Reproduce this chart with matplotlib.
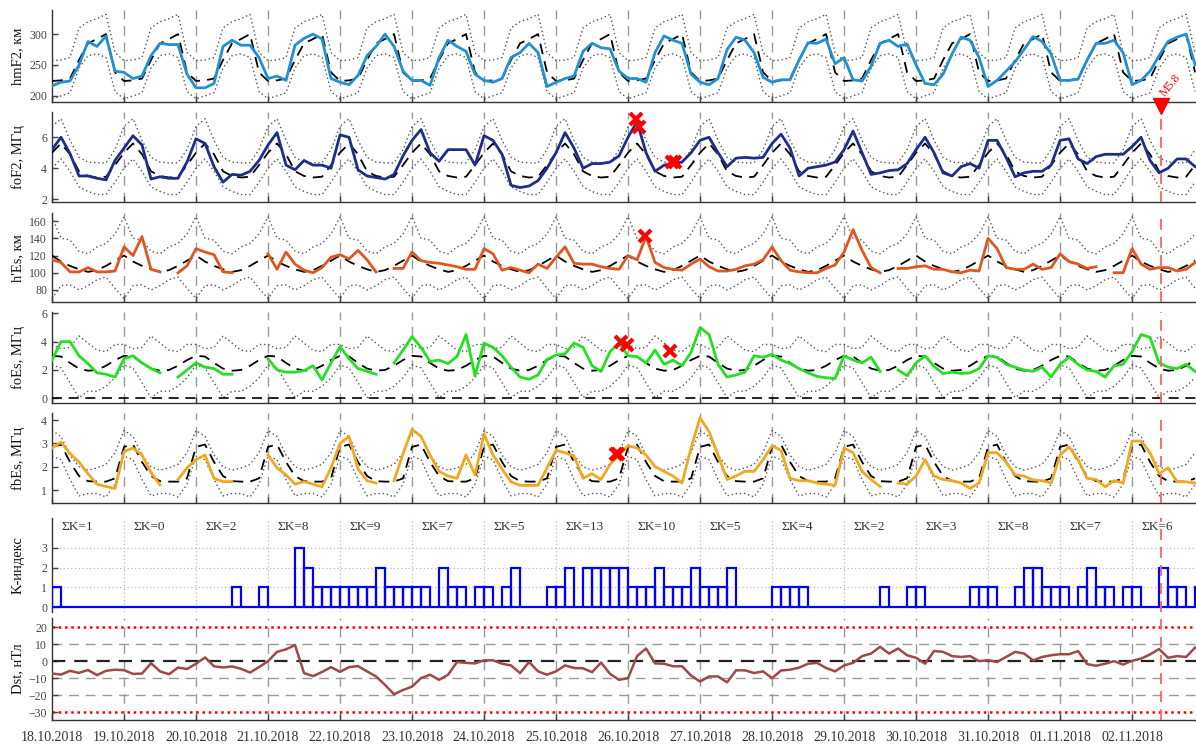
import numpy as np
import pandas as pd
import matplotlib
matplotlib.use('Agg')
import matplotlib.pyplot as plt

plt.rcParams['font.family'] = ['Liberation Serif', 'DejaVu Serif']

# time axis: 3-hour steps starting 18.10.2018 00 UT
day_labels = pd.date_range('2018-10-18', periods=16, freq='D').strftime('%d.%m.%Y').tolist()
hours = np.arange(128) * 3
nan = np.nan
quake_hour = 369.7   # M5.8, 02.11.2018

# --- hmF2, km (one row = one day) ---
hmf2 = [216, 222, 224, 250, 288, 280, 297, 240,
        238, 228, 232, 265, 285, 283, 283, 235,
        213, 213, 220, 280, 290, 282, 282, 262,
        228, 232, 225, 282, 293, 300, 292, 228,
        222, 218, 233, 265, 280, 300, 280, 240,
        225, 225, 217, 262, 290, 280, 272, 235,
        225, 222, 228, 262, 270, 285, 270, 215,
        222, 228, 232, 272, 285, 278, 276, 240,
        228, 228, 222, 270, 297, 290, 285, 235,
        222, 218, 228, 275, 295, 290, 270, 230,
        222, 226, 226, 258, 286, 285, 292, 252,
        262, 226, 224, 248, 285, 290, 280, 284,
        250, 220, 218, 235, 268, 295, 290, 262,
        215, 225, 240, 255, 275, 296, 288, 268,
        225, 225, 227, 258, 285, 285, 290, 270,
        218, 225, 240, 265, 288, 295, 300, 250]
hmf2_med = [224, 225, 228, 258, 285, 292, 300, 238]
hmf2_up = [257, 258, 262, 310, 320, 325, 332, 270]
hmf2_lo = [195, 200, 205, 245, 265, 268, 262, 207]

# --- foF2, MHz ---
fof2 = [5.2, 6.0, 4.95, 3.5, 3.5, 3.35, 3.25, 4.5,
        5.3, 6.1, 5.5, 3.3, 3.45, 3.35, 3.35, 4.4,
        5.9, 5.6, 4.1, 3.1, 3.6, 3.55, 3.8, 4.5,
        5.5, 6.3, 4.2, 3.9, 4.5, 4.2, 4.2, 4.0,
        6.15, 6.0, 3.9, 3.5, 3.4, 3.3, 3.6, 4.8,
        5.8, 6.5, 5.0, 4.45, 5.2, 5.2, 5.2, 4.2,
        6.1, 5.8, 4.9, 2.9, 2.75, 2.85, 3.2, 4.0,
        5.0, 6.3, 5.3, 4.0, 4.3, 4.3, 4.4, 4.8,
        6.0, 7.0, 5.0, 3.8, 4.2, 4.3, 4.4, 5.0,
        5.8, 6.0, 5.0, 4.1, 4.65, 4.7, 4.65, 4.7,
        5.6, 6.2, 5.3, 3.5, 4.0, 4.1, 4.2, 4.4,
        5.2, 6.4, 5.0, 3.6, 3.7, 3.85, 3.9, 4.3,
        5.2, 6.0, 5.0, 3.7, 3.5, 4.1, 4.3, 4.0,
        5.8, 5.8, 4.7, 3.45, 3.7, 3.8, 3.8, 4.2,
        5.8, 5.9, 4.6, 4.3, 4.75, 4.9, 4.9, 4.9,
        5.4, 6.0, 4.5, 3.7, 4.0, 4.6, 4.6, 4.1]
fof2_med = [5.0, 5.6, 4.9, 3.8, 3.5, 3.4, 3.45, 4.2]
fof2_up = [6.7, 7.2, 5.8, 4.7, 4.4, 4.35, 4.35, 5.2]
fof2_lo = [4.0, 4.6, 3.8, 2.8, 2.5, 2.3, 2.3, 3.1]

# --- h'Es, km ---
hes = [115, 112, 101, 101, 106, 101, 101, 102,
       130, 120, 142, 104, 101, nan, 100, 108,
       128, 124, 121, 101, 100, nan, nan, nan,
       122, 104, 124, 110, 103, 100, 106, 118,
       121, 116, 126, 115, 101, nan, 105, 105,
       124, 114, 112, 111, 109, 107, 104, 104,
       128, 122, 103, 106, 103, 100, 110, 105,
       118, 130, 111, 110, 110, 107, 105, 104,
       120, 115, 142, 112, 106, 104, 103, 110,
       116, 107, 102, 102, 104, 108, 110, 115,
       130, 114, 103, 101, 100, 100, 105, 109,
       124, 150, 126, 106, 100, nan, 105, 105,
       107, 108, 104, 104, 101, 100, 103, 102,
       140, 128, 106, 104, 104, 110, 104, 106,
       122, 113, 110, 105, 107, nan, 100, 100,
       128, 110, 104, 106, 106, 102, 104, 112]
hes_med = [120, 113, 108, 104, 101, 103, 108, 114]
hes_up = [165, 140, 138, 125, 122, 130, 134, 145]
hes_lo = [70, 85, 86, 80, 85, 92, 95, 82]

# --- foEs, MHz ---
foes = [2.7, 4.0, 4.0, 3.0, 2.45, 1.8, 1.7, 1.5,
        2.8, 3.0, 2.5, 2.1, 1.8, nan, 1.5, 2.0,
        2.5, 2.2, 2.1, 1.7, 1.7, nan, nan, nan,
        2.8, 2.0, 1.85, 1.85, 1.95, 2.3, 1.3, 2.5,
        3.65, 2.8, 2.1, 1.9, 1.7, nan, 2.5, 3.4,
        4.35, 3.6, 2.6, 2.7, 2.45, 2.95, 4.5, 1.6,
        3.9, 3.6, 3.0, 2.2, 1.5, 1.35, 1.65, 2.75,
        3.05, 3.15, 3.9, 3.6, 2.3, 1.9, 3.3, 3.9,
        3.0, 2.95, 2.5, 3.4, 2.4, 2.7, 2.3, 3.25,
        5.0, 4.5, 2.4, 1.5, 1.65, 1.85, 3.0, 2.9,
        3.1, 2.7, 2.45, 2.1, 1.8, 1.55, 1.45, 1.4,
        3.0, 2.7, 2.5, 2.9, 1.9, nan, 2.0, 1.6,
        2.5, 3.0, 2.25, 1.75, 1.85, 1.75, 1.8, 2.1,
        3.0, 2.9, 2.4, 2.2, 2.0, 1.9, 2.2, 1.5,
        2.4, 2.9, 2.4, 2.0, 1.9, 1.5, 2.3, 2.4,
        3.3, 4.5, 4.3, 2.5, 2.2, 2.1, 2.4, 1.9]
foes_med = [3.0, 2.95, 2.5, 2.1, 1.95, 2.0, 2.3, 2.7]
foes_up = [3.8, 3.5, 3.6, 4.4, 3.9, 3.4, 3.3, 3.8]
foes_lo = [2.35, 2.15, 1.1, 0.05, 0.5, 0.5, 0.85, 1.45]

# --- fbEs, MHz ---
fbes = [2.8, 3.05, 2.57, 2.2, 1.7, 1.25, 1.15, 1.07,
        2.65, 2.8, 2.5, 1.75, 1.22, nan, 1.45, 1.95,
        2.3, 2.5, 1.5, 1.36, 1.36, nan, nan, nan,
        2.5, 1.95, 1.65, 1.25, 1.36, 1.25, 1.14, 1.95,
        3.0, 3.3, 1.9, 1.4, 1.3, nan, 1.4, 2.55,
        3.6, 3.3, 2.5, 1.8, 1.6, 1.5, 2.5, 1.65,
        3.4, 2.5, 1.9, 1.35, 1.2, 1.2, 1.2, 1.95,
        2.7, 2.6, 2.45, 1.5, 1.7, 1.45, 2.1, 2.5,
        2.9, 2.8, 2.5, 2.0, 1.8, 1.6, 1.3, 2.8,
        4.1, 3.5, 2.5, 1.45, 1.6, 1.8, 1.8, 2.3,
        2.9, 2.7, 1.5, 1.4, 1.4, 1.3, 1.25, 1.2,
        2.8, 2.6, 1.8, 1.45, 1.15, nan, 1.3, 1.25,
        1.6, 2.3, 1.6, 1.45, 1.4, 1.3, 1.07, 1.3,
        2.6, 2.6, 2.2, 1.65, 1.6, 1.43, 1.4, 1.3,
        2.5, 2.85, 2.3, 1.5, 1.45, 1.14, 1.4, 1.3,
        3.1, 3.1, 2.6, 1.7, 1.95, 1.35, 1.35, 1.3]
fbes_med = [2.85, 2.95, 2.2, 1.6, 1.38, 1.36, 1.36, 1.5]
fbes_up = [3.55, 3.3, 2.5, 2.0, 1.85, 1.95, 2.1, 2.6]
fbes_lo = [2.45, 2.3, 1.45, 0.75, 0.85, 0.85, 0.7, 1.25]

# --- K-index (3-hour) and daily sums ---
kidx = [1, 0, 0, 0, 0, 0, 0, 0,
        0, 0, 0, 0, 0, 0, 0, 0,
        0, 0, 0, 0, 1, 0, 0, 1,
        0, 0, 0, 3, 2, 1, 1, 1,
        1, 1, 1, 1, 2, 1, 1, 1,
        1, 1, 0, 2, 1, 1, 0, 1,
        1, 0, 1, 2, 0, 0, 0, 1,
        1, 2, 0, 2, 2, 2, 2, 2,
        1, 1, 1, 2, 1, 1, 1, 2,
        1, 1, 1, 2, 0, 0, 0, 0,
        1, 1, 1, 1, 0, 0, 0, 0,
        0, 0, 0, 0, 1, 0, 0, 1,
        1, 0, 0, 0, 0, 0, 1, 1,
        1, 0, 0, 1, 2, 2, 1, 1,
        1, 0, 1, 2, 1, 1, 0, 1,
        1, 0, 0, 2, 1, 1, 0, 1]
sum_k = [1, 0, 2, 8, 9, 7, 5, 13, 10, 5, 4, 2, 3, 8, 7, 6]

# --- Dst, nT ---
dst = [-7.3, -7.9, -5.7, -6.9, -5.2, -8.2, -5.7, -5.0,
       -5.3, -7.5, -7.3, -1.2, -6.0, -7.7, -3.8, -4.6,
       -1.5, 2.2, -3.0, -3.7, -3.1, -4.5, -6.7, -3.5,
       0.0, 5.5, 7.0, 9.5, -7.0, -8.8, -6.4, -3.5,
       -6.3, -3.5, -2.9, -6.0, -9.0, -14.0, -19.5, -17.0,
       -15.0, -10.0, -8.0, -11.0, -8.0, -0.5, -1.0, -1.3,
       0.5, 0.5, -1.5, -2.5, -7.0, -0.5, -6.0, -8.0,
       -6.0, -2.5, -4.0, -4.2, -6.5, -0.8, -7.5, -11.0,
       -10.0, 3.0, 7.5, -1.3, -1.5, -3.0, -3.0, -8.5,
       -12.0, -9.0, -9.0, -12.5, -5.4, -5.4, -7.0, -6.0,
       -10.0, -5.5, -5.0, -3.8, -1.5, -1.0, -4.0, -6.0,
       -2.5, -1.0, 3.0, 4.5, 8.5, 4.5, 7.5, 3.5,
       2.0, -1.5, 6.0, 5.5, 3.0, 2.5, 3.0, 0.0,
       0.6, -0.5, 2.5, 5.5, 4.5, 0.5, 2.5, 3.5,
       4.1, 4.1, 6.0, -1.7, -2.7, -1.5, 0.0, -2.0,
       0.2, 1.5, 4.0, 7.2, 2.0, 3.0, 2.5, 8.0]

# anomaly marks (hour, value)
fof2_x = ([194.7, 195.8, 206.5, 207.6], [7.16, 6.69, 4.43, 4.43])
hes_x = ([197.7], [142.6])
foes_x = ([189.7, 191.8, 206.0], [4.0, 3.76, 3.36])
fbes_x = ([188.0, 188.8], [2.53, 2.55])

XMAX = 381.3
W = 1196.0
H = 747.0
fig = plt.figure(figsize=(11.96, 7.47), dpi=100)


def rect(top, bottom):
    return [52 / W, 1 - bottom / H, 1 - 52 / W, (bottom - top) / H]


def base_axes(r, ylim, yticks, ylabel, spines=('left', 'bottom')):
    ax = fig.add_axes(r)
    ax.set_xlim(0, XMAX)
    ax.set_ylim(*ylim)
    ax.set_yticks(yticks)
    for s in ax.spines:
        ax.spines[s].set_visible(s in spines)
        ax.spines[s].set_color('#333333')
        ax.spines[s].set_linewidth(1.0)
    ax.set_xticks(np.arange(0, 361, 24))
    ax.set_xticklabels([])
    ax.tick_params(direction='in', length=4, colors='#444444', labelsize=8.5,
                   width=1.0)
    ax.set_ylabel(ylabel, fontsize=10.5, color='#111122')
    ax.yaxis.set_label_coords(-0.024, 0.5)
    return ax


def iono_panel(r, ylim, yticks, ylabel, obs, med, up, lo, color, marks=None,
               quake=True):
    ax = base_axes(r, ylim, yticks, ylabel)
    for d in range(1, 16):
        ax.axvline(24 * d, color='#9a9a9a', ls=(0, (7, 5)), lw=1.0, zorder=1)
    ax.plot(hours, np.tile(up, 16), color='#555555', ls=(0, (1, 2)), lw=1.0, zorder=2)
    ax.plot(hours, np.tile(lo, 16), color='#555555', ls=(0, (1, 2)), lw=1.0, zorder=2)
    ax.plot(hours, np.tile(med, 16), color='black', ls=(0, (6, 4)), lw=1.3, zorder=3)
    ax.plot(hours, obs, color=color, lw=2.0, zorder=4)
    if marks is not None:
        ax.plot(marks[0], marks[1], 'x', color='red', ms=9, mew=3, zorder=6)
    if quake:
        ax.axvline(quake_hour, color='#ff6060', ls=(0, (6, 4)), lw=1.3, zorder=5)
    return ax


ax1 = iono_panel(rect(10, 102), (190, 339), [200, 250, 300], 'hmF2, км',
                 hmf2, hmf2_med, hmf2_up, hmf2_lo, '#2090d0', quake=False)
ax2 = iono_panel(rect(111.7, 202.3), (1.8, 7.65), [2, 4, 6], 'foF2, МГц',
                 fof2, fof2_med, fof2_up, fof2_lo, '#1f2d8a', marks=fof2_x)
ax2.plot([quake_hour], [8.05], 'v', color='red', ms=12, clip_on=False, zorder=10)
ax2.text(quake_hour + 2.0, 8.45, 'M5.8', color='red', fontsize=8.5, rotation=50,
         ha='left', va='bottom', rotation_mode='anchor')
ax3 = iono_panel(rect(213.3, 302.3), (65.7, 169), [80, 100, 120, 140, 160], "h'Es, км",
                 hes, hes_med, hes_up, hes_lo, '#e0561f', marks=hes_x)
ax4 = iono_panel(rect(312.3, 403.3), (-0.35, 6.07), [0, 2, 4, 6], 'foEs, МГц',
                 foes, foes_med, foes_up, foes_lo, '#22e022', marks=foes_x)
ax4.axhline(0, color='black', ls=(0, (6, 4)), lw=1.2, zorder=3)
ax5 = iono_panel(rect(413.3, 502.7), (0.456, 4.29), [1, 2, 3, 4], 'fbEs, МГц',
                 fbes, fbes_med, fbes_up, fbes_lo, '#f0a820', marks=fbes_x)

# K-index
ax6 = base_axes(rect(518.3, 612), (-0.25, 4.5), [0, 1, 2, 3], 'K-индекс',
                spines=('left',))
ax6.tick_params(axis='x', length=0)
for d in range(1, 16):
    ax6.axvline(24 * d, color='#bbbbbb', ls=(0, (1, 2)), lw=0.9, zorder=1)
for v in (1, 2, 3):
    ax6.axhline(v, color='#bbbbbb', ls=(0, (1, 2)), lw=0.9, zorder=1)
ax6.bar(hours, kidx, width=3, align='edge', fill=False, edgecolor='#0000ff',
        lw=1.6, zorder=3)
ax6.axvline(quake_hour, color='#ff6060', ls=(0, (6, 4)), lw=1.3, zorder=5)
for d, s in enumerate(sum_k):
    ax6.text(24 * d + 3.3, 4.05, 'ΣK=%d' % s, fontsize=9.5, color='#333333',
             ha='left', va='center')

# Dst
ax7 = base_axes(rect(618.3, 720), (-34.7, 25.3), [-30, -20, -10, 0, 10, 20],
                'Dst, нТл')
for d in range(1, 16):
    ax7.axvline(24 * d, color='#9a9a9a', ls=(0, (7, 5)), lw=1.0, zorder=1)
for v in (-20, -10, 10):
    ax7.axhline(v, color='#9a9a9a', ls=(0, (7, 5)), lw=1.0, zorder=1)
ax7.axhline(0, color='#222222', ls=(0, (6, 4)), lw=1.6, zorder=2)
for v in (20, -30):
    ax7.axhline(v, color='red', ls=(0, (1, 1.5)), lw=1.8, zorder=2)
ax7.plot(hours, dst, color='#a04848', lw=1.8, zorder=4)
ax7.axvline(quake_hour, color='#ff6060', ls=(0, (6, 4)), lw=1.3, zorder=5)
ax7.set_xticklabels(day_labels, fontsize=10, color='#333333')
ax7.tick_params(axis='x', pad=8)

fig.savefig('out.png', dpi=100)
